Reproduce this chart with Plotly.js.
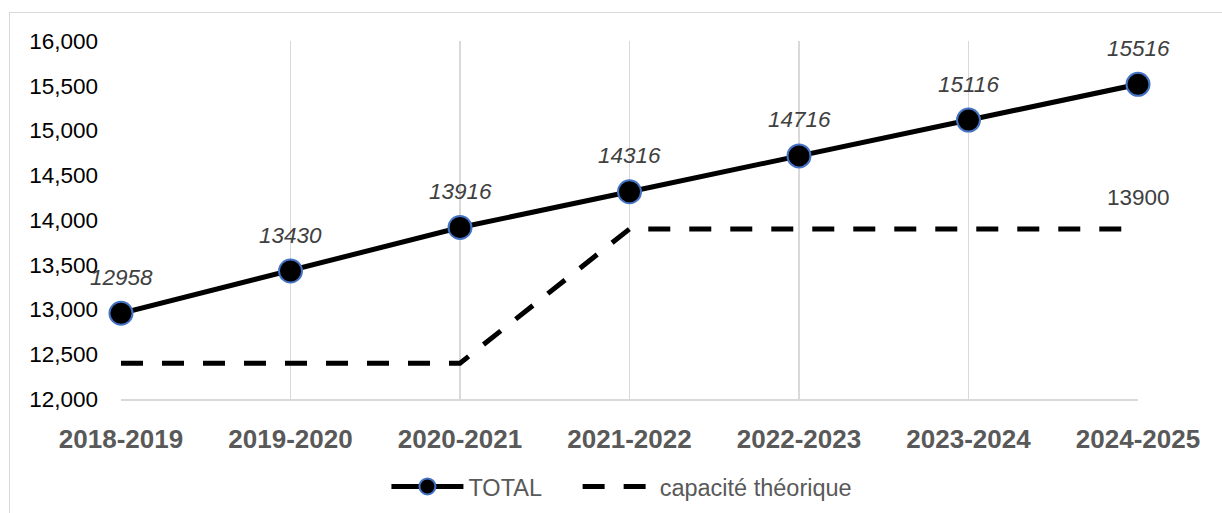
<!DOCTYPE html>
<html>
<head>
<meta charset="utf-8">
<script src="https://cdn.plot.ly/plotly-3.0.1.min.js"></script>
<style>
html,body{margin:0;padding:0;background:#fff;}
#frame{position:absolute;left:9px;top:12px;width:1213px;height:501px;border-left:1.5px solid #d9d9d9;border-top:1.5px solid #d9d9d9;box-sizing:border-box;}
#chart{position:absolute;left:0;top:0;width:1222px;height:513px;}
</style>
</head>
<body>
<div id="frame"></div>
<div id="chart"></div>
<script>
const categories = ["2018-2019","2019-2020","2020-2021","2021-2022","2022-2023","2023-2024","2024-2025"];
const totalValues = [12958, 13430, 13916, 14316, 14716, 15116, 15516];
const capaciteValues = [12400, 12400, 12400, 13900, 13900, 13900, 13900];
const yTickValues = [12000, 12500, 13000, 13500, 14000, 14500, 15000, 15500, 16000];
const yTickLabels = ["12,000","12,500","13,000","13,500","14,000","14,500","15,000","15,500","16,000"];

const FONT = "Liberation Sans, Arial, sans-serif";

const traces = [
  {
    x: categories, y: totalValues, name: "TOTAL", type: "scatter", mode: "lines+markers",
    line: {color: "#000000", width: 5},
    marker: {size: 23, color: "#000000", line: {color: "#4472C4", width: 2}},
    cliponaxis: false, legend: "legend"
  },
  {
    x: categories, y: capaciteValues, name: "capacité théorique", type: "scatter", mode: "lines",
    line: {color: "#000000", width: 5, dash: "22px,19px"},
    cliponaxis: false, legend: "legend2"
  }
];

const annotations = totalValues.map((v, i) => ({
  x: categories[i], y: v, text: "<i>" + v + "</i>", showarrow: false, yshift: 36,
  font: {family: FONT, size: 22.5, color: "#404040"}
}));
const last = capaciteValues.length - 1;
annotations.push({
  x: categories[last], y: capaciteValues[last], text: String(capaciteValues[last]),
  showarrow: false, yshift: 31, font: {family: FONT, size: 22.5, color: "#404040"}
});

const legendStyle = {
  orientation: "h", xanchor: "left", y: -0.245, yanchor: "middle",
  font: {family: FONT, size: 23.5, color: "#595959"}, itemwidth: 72, bgcolor: "rgba(0,0,0,0)"
};

const layout = {
  width: 1222, height: 513,
  margin: {l: 121, r: 84, t: 41, b: 114, autoexpand: false},
  paper_bgcolor: "rgba(0,0,0,0)", plot_bgcolor: "rgba(0,0,0,0)",
  font: {family: FONT, size: 18, color: "#000"},
  showlegend: true,
  legend: Object.assign({x: 0.261}, legendStyle),
  legend2: Object.assign({x: 0.449}, legendStyle),
  xaxis: {
    type: "category", range: [0, 6], showgrid: true, gridcolor: "#d9d9d9", gridwidth: 1.5,
    showline: true, linecolor: "#d9d9d9", linewidth: 1.5, zeroline: false, automargin: false,
    ticks: "", ticklabelstandoff: 16,
    tickfont: {family: FONT, size: 26, color: "#595959", weight: "bold"}
  },
  yaxis: {
    range: [12000, 16000], tickmode: "array", tickvals: yTickValues, ticktext: yTickLabels,
    showgrid: false, showline: false, zeroline: false, ticks: "", ticklabelstandoff: 22, automargin: false,
    tickfont: {family: FONT, size: 22.5, color: "#000"}
  },
  annotations: annotations
};

Plotly.newPlot("chart", traces, layout, {displayModeBar: false, staticPlot: true});
</script>
</body>
</html>
